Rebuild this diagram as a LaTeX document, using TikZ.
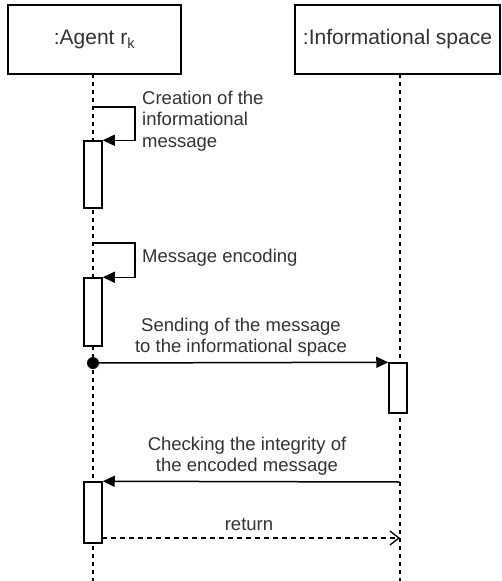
\documentclass[tikz,border=0pt]{standalone}
\usepackage{fontspec}
\setmainfont{Liberation Sans}
\usetikzlibrary{arrows.meta}
\begin{document}
\begin{tikzpicture}[x=1pt,y=-1pt,
  every node/.style={text=black!80},
  head/.style={draw=black, line width=1.5pt, minimum width=#1, minimum height=69pt, inner sep=0pt, font=\fontsize{21}{24}\selectfont},
  lifeline/.style={draw=black, line width=1.5pt, dash pattern=on 4pt off 4pt},
  actbox/.style={draw=black, line width=1.5pt, fill=white, minimum width=18pt, minimum height=#1, inner sep=0pt},
  msg/.style={draw=black, line width=1.5pt, -{Triangle[length=12pt,width=11pt]}},
  ret/.style={draw=black, line width=1.3pt, dash pattern=on 5pt off 4pt, -{Straight Barb[length=9pt,width=14pt,line width=1.3pt]}},
  lbl/.style={font=\fontsize{18.5}{21.5}\selectfont, inner sep=0pt}
]
\useasboundingbox (0,0) rectangle (502,581);
% headers
\node[head=173pt] (agent) at (94.5,39.5) {:Agent r\textsubscript{k}};
\node[head=205pt] (info) at (397.5,39.5) {:Informational space};
% lifelines
\coordinate (agentend) at (93,581);
\coordinate (infoend) at (400,581);
\coordinate (agenttop) at (93,74);
\coordinate (infotop) at (400,74);
\draw[lifeline] (agenttop) -- (agentend);
\draw[lifeline] (infotop) -- (infoend);
% activations
\node[actbox=67pt] (act1) at (93,174.5) {};
\node[actbox=68pt] (act2) at (93,312) {};
\node[actbox=50pt] (iact) at (398,388) {};
\node[actbox=61pt] (act3) at (93,512.5) {};
% self message 1
\coordinate (s1) at (93,107);
\coordinate (s1r) at (135,107);
\draw[msg] (s1) -- (s1r) |- (act1.north east);
\node[lbl, anchor=west, align=left] (t1) at (142,121) {Creation of the\\informational\\message};
% self message 2
\coordinate (s2) at (93,243);
\coordinate (s2r) at (135,243);
\draw[msg] (s2) -- (s2r) |- (act2.north east);
\node[lbl, anchor=west] (t2) at (142,258) {Message encoding};
% sending
\node[circle, fill=black, minimum size=12pt, inner sep=0pt] (dot) at (93,363) {};
\draw[msg] (dot.center) -- (iact.north west);
\node[lbl, align=center] (t3) at (241,337) {Sending of the message\\to the informational space};
% checking
\coordinate (chk) at (400,482);
\draw[msg] (chk) -- (act3.north east);
\node[lbl, align=center] (t4) at (247,456) {Checking the integrity of\\the encoded message};
% return
\coordinate (r1) at (102,538);
\coordinate (r2) at (400,538);
\draw[ret] (r1) -- (r2);
\node[lbl] (t5) at (249,525) {return};
\end{tikzpicture}
\end{document}
